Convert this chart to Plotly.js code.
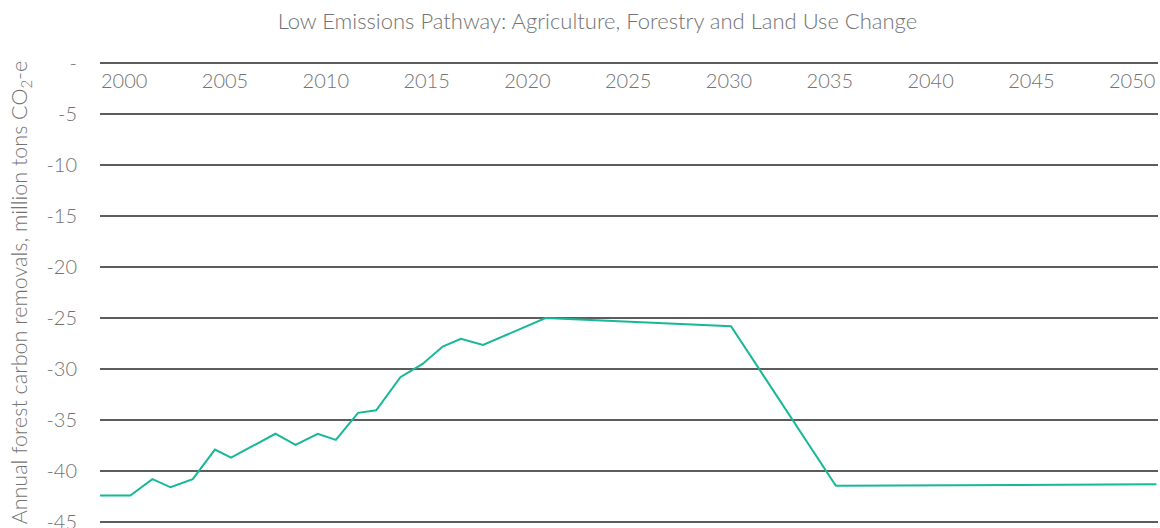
<!DOCTYPE html>
<html>
<head>
<meta charset="utf-8">
<script src="https://cdn.plot.ly/plotly-3.0.1.min.js"></script>
<style>html,body{margin:0;padding:0;background:#fff}#chart{width:1160px;height:528px}</style>
</head>
<body>
<div id="chart"></div>
<script>
// Data (year, removals in million tons CO2-e)
const years = [1998.8, 2000.3, 2001.4, 2002.3, 2003.4, 2004.5, 2005.3, 2007.5, 2008.5, 2009.6, 2010.5, 2011.6, 2012.5, 2013.7, 2014.8, 2015.8, 2016.7, 2017.8, 2020.9, 2030.1, 2035.3, 2051.2];
const removals = [-42.4, -42.4, -40.8, -41.6, -40.8, -37.9, -38.7, -36.35, -37.45, -36.35, -36.95, -34.3, -34.05, -30.8, -29.5, -27.8, -27.05, -27.65, -25.0, -25.8, -41.45, -41.3];
const xTickVals = [2000, 2005, 2010, 2015, 2020, 2025, 2030, 2035, 2040, 2045, 2050];
const xTickText = ['2000', '2005', '2010', '2015', '2020', '2025', '2030', '2035', '2040', '2045', '2050'];
const yTickVals = [0, -5, -10, -15, -20, -25, -30, -35, -40, -45];
const yTickText = ['-', '-5', '-10', '-15', '-20', '-25', '-30', '-35', '-40', '-45'];

const textColor = '#737373';
const fontFamily = 'Lato, "Open Sans", sans-serif';

const trace = {
  x: years,
  y: removals,
  type: 'scatter',
  mode: 'lines',
  line: {color: '#17b897', width: 2},
  cliponaxis: false,
  hoverinfo: 'x+y'
};

const layout = {
  width: 1160,
  height: 528,
  margin: {l: 100, r: 2, t: 61, b: 4},
  paper_bgcolor: '#ffffff',
  plot_bgcolor: '#ffffff',
  font: {family: fontFamily, size: 20, color: textColor, weight: 300},
  showlegend: false,
  title: {
    text: 'Low Emissions Pathway: Agriculture, Forestry and Land Use Change',
    font: {family: fontFamily, size: 22, color: textColor, weight: 300},
    xref: 'container', x: 0.515, xanchor: 'center',
    yref: 'container', y: 0.96, yanchor: 'middle'
  },
  xaxis: {
    range: [1998.8, 2051.28],
    anchor: 'free',
    position: 0.995,
    side: 'bottom',
    tickvals: xTickVals,
    ticktext: xTickText,
    ticks: '',
    showgrid: false,
    zeroline: false,
    showline: false,
    tickfont: {family: fontFamily, size: 20, color: textColor, weight: 300},
    ticklabelstandoff: 4,
    ticklabeloverflow: 'allow',
    automargin: false,
    fixedrange: true
  },
  yaxis: {
    range: [-45.2, 0.2],
    tickvals: yTickVals,
    ticktext: yTickText,
    ticks: '',
    showgrid: true,
    gridcolor: '#5c5c5c',
    gridwidth: 1.5,
    zeroline: false,
    showline: false,
    tickfont: {family: fontFamily, size: 20, color: textColor, weight: 300},
    ticklabelstandoff: 22,
    ticklabeloverflow: 'allow',
    title: {
      text: 'Annual forest carbon removals, million tons CO<sub>2</sub>-e',
      font: {family: fontFamily, size: 21.5, color: textColor, weight: 300},
      standoff: 12
    },
    automargin: false,
    fixedrange: true
  }
};

Plotly.newPlot('chart', [trace], layout, {displayModeBar: false, staticPlot: true});
</script>
</body>
</html>
